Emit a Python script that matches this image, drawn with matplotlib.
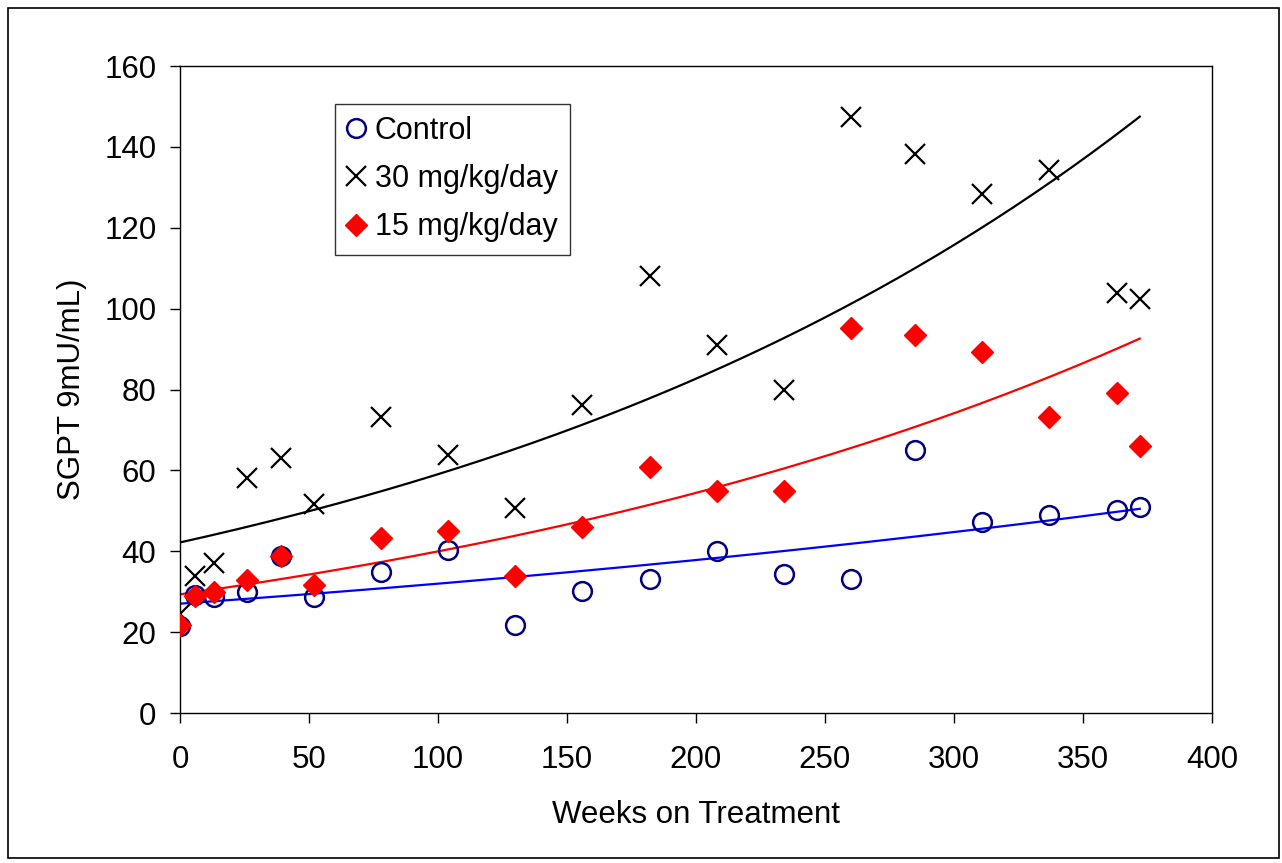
import matplotlib
matplotlib.use("Agg")
import matplotlib.pyplot as plt
import matplotlib.patches as patches
import numpy as np

plt.rcParams['font.family'] = ['Liberation Sans', 'DejaVu Sans']

weeks = [0, 6, 13, 26, 39, 52, 78, 104, 130, 156, 182, 208, 234, 260, 285, 311, 337, 363, 372]
control = [21.5, 29.2, 28.7, 30, 38.8, 28.7, 34.9, 40.3, 21.8, 30.2, 33.1, 40, 34.4, 33.1, 65, 47.2, 49, 50.2, 51]
dose30 = [24.5, 34, 37, 58, 63, 51.7, 73.2, 63.8, 50.7, 76.2, 108, 91, 80, 147.4, 138.2, 128.3, 134.3, 103.9, 102.4]
dose15 = [21.8, 29, 30, 33, 38.8, 31.7, 43.3, 45, 34, 46, 60.8, 55, 55, 95.2, 93.5, 89.3, 73.2, 79.1, 66]

fig = plt.figure(figsize=(12.82, 8.63), dpi=100)
ax = fig.add_axes([0.1404, 0.1738, 0.8050, 0.7497])

x = np.array(weeks, dtype=float)
xs = np.linspace(0, x.max(), 200)

# exponential trendlines (like Excel), drawn first so markers sit on top
for vals, col in [(control, '#0000FF'), (dose30, 'black'), (dose15, '#FF0000')]:
    b, lna = np.polyfit(x, np.log(vals), 1)
    ax.plot(xs, np.exp(lna + b * xs), color=col, lw=1.6, zorder=2)

ax.plot(weeks, control, 'o', ms=13.5, mfc='none', mec='#000080', mew=1.8,
        label='Control', zorder=3)
ax.plot(weeks, dose30, 'x', ms=15, color='black', mew=1.6,
        label='30 mg/kg/day', zorder=3)
ax.plot(weeks, dose15, 'D', ms=11, color='#FF0000', mec='#FF0000',
        label='15 mg/kg/day', zorder=4)

ax.set_xlim(0, 400)
ax.set_ylim(0, 160)
ax.set_xticks(range(0, 401, 50))
ax.set_yticks(range(0, 161, 20))
ax.tick_params(direction='out', length=7, width=1, labelsize=22.5)
ax.tick_params(axis='y', pad=10)
ax.tick_params(axis='x', pad=16)
for s in ax.spines.values():
    s.set_linewidth(1)
    s.set_color('black')

ax.set_xlabel('Weeks on Treatment', fontsize=22.5, labelpad=18)
ax.set_ylabel('SGPT 9mU/mL)', fontsize=22.5, labelpad=12)

leg = ax.legend(loc='upper left', bbox_to_anchor=(0.150, 0.942), fontsize=22,
                frameon=True, fancybox=False, handlelength=0.6, handletextpad=0.3,
                borderpad=0.4, labelspacing=0.6, borderaxespad=0)
leg.get_frame().set_edgecolor('black')
leg.get_frame().set_linewidth(1)

# outer chart border
fig.patches.append(patches.Rectangle((8 / 1282, 5 / 863), 1271 / 1282, 850 / 863,
                                     transform=fig.transFigure, fill=False,
                                     edgecolor='black', lw=1.2))

fig.savefig('out.png', dpi=100)
